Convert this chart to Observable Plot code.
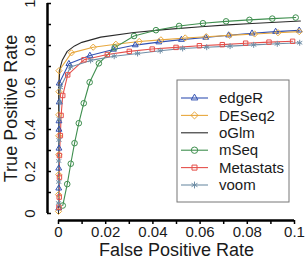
<!DOCTYPE html>
<html>
<head>
<meta charset="utf-8">
<script src="https://cdn.jsdelivr.net/npm/d3@7"></script>
<script src="https://cdn.jsdelivr.net/npm/@observablehq/plot@0.6"></script>
<style>
  html, body { margin: 0; padding: 0; background: #fff; }
  svg { display: block; }
</style>
</head>
<body>
<div id="chart"></div>
<script>
// ROC curves of six differential-abundance methods
const methods = ["edgeR", "DESeq2", "oGlm", "mSeq", "Metastats", "voom"];
const colors  = ["#3352b2", "#e8a83e", "#2b2b2b", "#3f8f4f", "#e5504b", "#6f8ea6"];
const symbols = ["triangle2", "diamond2", null, "circle", "square2", "asterisk"];

const edgeRFpr = [0.0001, 0.0001, 0.0001, 0.0002, 0.0002, 0.0002, 0.0003, 0.0003, 0.0044, 0.0133, 0.0233, 0.0325, 0.0425, 0.0521, 0.0624, 0.0721, 0.0820, 0.0920, 0.1020];
const edgeRTpr = [0.025, 0.12, 0.215, 0.31, 0.40, 0.44, 0.53, 0.62, 0.713, 0.752, 0.781, 0.802, 0.816, 0.828, 0.838, 0.849, 0.858, 0.866, 0.872];

const deseq2Fpr = [0.0, 0.0, 0.0001, 0.0001, 0.0001, 0.0001, 0.0002, 0.0002, 0.0055, 0.0147, 0.0243, 0.0342, 0.0434, 0.0537, 0.0626, 0.0725, 0.0831, 0.0930, 0.1020];
const deseq2Tpr = [0.01, 0.09, 0.185, 0.28, 0.37, 0.47, 0.58, 0.68, 0.765, 0.792, 0.806, 0.819, 0.827, 0.836, 0.842, 0.848, 0.855, 0.861, 0.866];

const oglmFpr = [0.0, 0.0001, 0.0001, 0.0006, 0.0016, 0.0037, 0.0068, 0.0099, 0.0179, 0.0320, 0.0459, 0.0604, 0.0717, 0.0820, 0.0922, 0.1025];
const oglmTpr = [0.0, 0.3, 0.6, 0.69, 0.73, 0.772, 0.798, 0.815, 0.840, 0.862, 0.877, 0.889, 0.898, 0.905, 0.911, 0.917];

const mseqFpr = [0.0018, 0.0037, 0.0052, 0.0068, 0.0086, 0.0107, 0.0132, 0.0171, 0.0238, 0.0320, 0.0413, 0.0511, 0.0612, 0.0710, 0.0809, 0.0906, 0.1005];
const mseqTpr = [0.038, 0.14, 0.237, 0.335, 0.43, 0.525, 0.625, 0.715, 0.79, 0.845, 0.873, 0.893, 0.906, 0.915, 0.922, 0.928, 0.933];

const metastatsFpr = [0.0002, 0.0003, 0.0004, 0.0004, 0.0008, 0.0011, 0.0018, 0.0039, 0.0108, 0.0207, 0.0300, 0.0397, 0.0498, 0.0597, 0.0694, 0.0793, 0.0892, 0.0992];
const metastatsTpr = [0.03, 0.078, 0.173, 0.276, 0.371, 0.467, 0.562, 0.66, 0.732, 0.757, 0.772, 0.783, 0.791, 0.799, 0.804, 0.811, 0.816, 0.82];

const voomFpr = [0.0, 0.0001, 0.0001, 0.0002, 0.0003, 0.0005, 0.0008, 0.0051, 0.0136, 0.0236, 0.0335, 0.0431, 0.0526, 0.0628, 0.0727, 0.0827, 0.0927, 0.1022];
const voomTpr = [0.05, 0.15, 0.25, 0.35, 0.45, 0.53, 0.60, 0.698, 0.729, 0.749, 0.762, 0.775, 0.786, 0.792, 0.797, 0.803, 0.808, 0.813];

const xTicks = [0, 0.01, 0.02, 0.03, 0.04, 0.05, 0.06, 0.07, 0.08, 0.09, 0.1];
const xLabelTicks = [0, 0.02, 0.04, 0.06, 0.08, 0.1];
const xLabels = ["0", "0.02", "0.04", "0.06", "0.08", "0.1"];
const yTicks = [0, 0.1, 0.2, 0.3, 0.4, 0.5, 0.6, 0.7, 0.8, 0.9, 1];
const yLabelTicks = [0, 0.2, 0.4, 0.6, 0.8, 1];
const yLabels = ["0", "0.2", "0.4", "0.6", "0.8", "1"];

const seriesFpr = [edgeRFpr, deseq2Fpr, oglmFpr, mseqFpr, metastatsFpr, voomFpr];
const seriesTpr = [edgeRTpr, deseq2Tpr, oglmTpr, mseqTpr, metastatsTpr, voomTpr];

const rows = methods.map((m, i) => seriesFpr[i].map((f, j) => ({method: m, fpr: f, tpr: seriesTpr[i][j]})));

const font = "'Liberation Sans', Arial, Helvetica, sans-serif";
const textColor = "#1a1a1a";

const curveMarks = [];
methods.forEach((m, i) => {
  curveMarks.push(Plot.line(rows[i], {x: "fpr", y: "tpr", stroke: colors[i], strokeWidth: 1.1, curve: "linear"}));
});
methods.forEach((m, i) => {
  if (symbols[i]) curveMarks.push(Plot.dot(rows[i], {x: "fpr", y: "tpr", stroke: colors[i], fill: "none", symbol: symbols[i], r: 2.8, strokeWidth: 1}));
});

const plot = Plot.plot({
  width: 305,
  height: 259,
  marginLeft: 58,
  marginRight: 11,
  marginTop: 3,
  marginBottom: 46,
  x: {domain: [0, 0.1]},
  y: {domain: [0, 1]},
  style: {fontFamily: font, background: "#fff", color: textColor, overflow: "visible"},
  marks: [
    // offset y axis: spine, inward ticks, rotated labels
    Plot.ruleX([0], {y1: 0, y2: 1, dx: -11, stroke: "#000", strokeWidth: 2.5}),
    Plot.axisY(yTicks, {tickSize: 4, dx: -7, tickFormat: () => "", stroke: "#000", strokeWidth: 1.5, label: null}),
    Plot.axisY(yLabelTicks, {tickSize: 0, dx: -11, tickPadding: 13, tickRotate: -90, fontSize: 15, tickFormat: (d, i) => yLabels[i], fill: textColor, label: null}),
    // offset x axis
    Plot.ruleY([0], {x1: 0, x2: 0.1, dy: 7, stroke: "#000", strokeWidth: 2.5}),
    Plot.axisX(xTicks, {tickSize: 4, dy: 7, tickFormat: () => "", stroke: "#000", strokeWidth: 1.5, label: null}),
    Plot.axisX(xLabelTicks, {tickSize: 0, dy: 7, tickPadding: 6, fontSize: 15, tickFormat: (d, i) => xLabels[i], fill: textColor, label: null}),
    // axis titles
    Plot.text(["False Positive Rate"], {frameAnchor: "bottom", dy: 42, lineAnchor: "bottom", fontSize: 18, fill: textColor}),
    Plot.text(["True Positive Rate"], {frameAnchor: "left", dx: -47, rotate: -90, textAnchor: "middle", fontSize: 18, fill: textColor}),
    ...curveMarks
  ]
});

document.getElementById("chart").appendChild(plot);

// legend box
const svg = d3.select(plot);
const lg = svg.append("g").attr("transform", "translate(177,80)");
lg.append("rect").attr("width", 112).attr("height", 122).attr("fill", "#fff").attr("stroke", "#777").attr("stroke-width", 1);
const symbolTypes = {
  triangle2: d3.symbolTriangle2, diamond2: d3.symbolDiamond2, circle: d3.symbolCircle,
  square2: d3.symbolSquare2, asterisk: d3.symbolAsterisk
};
methods.forEach((m, i) => {
  const y = 18 + i * 17.4;
  const row = lg.append("g").attr("transform", `translate(0,${y})`);
  row.append("line").attr("x1", 4).attr("x2", 31).attr("y1", 0).attr("y2", 0)
    .attr("stroke", colors[i]).attr("stroke-width", 1.1);
  if (symbols[i]) {
    row.append("path").attr("transform", "translate(17.5,0)")
      .attr("d", d3.symbol(symbolTypes[symbols[i]], Math.PI * 3.2 * 3.2)())
      .attr("fill", "none").attr("stroke", colors[i]).attr("stroke-width", 1);
  }
  row.append("text").attr("x", 42).attr("y", 0).attr("dy", "0.35em")
    .attr("text-anchor", "start")
    .attr("font-family", font).attr("font-size", 15).attr("fill", textColor).text(m);
});
</script>
</body>
</html>
